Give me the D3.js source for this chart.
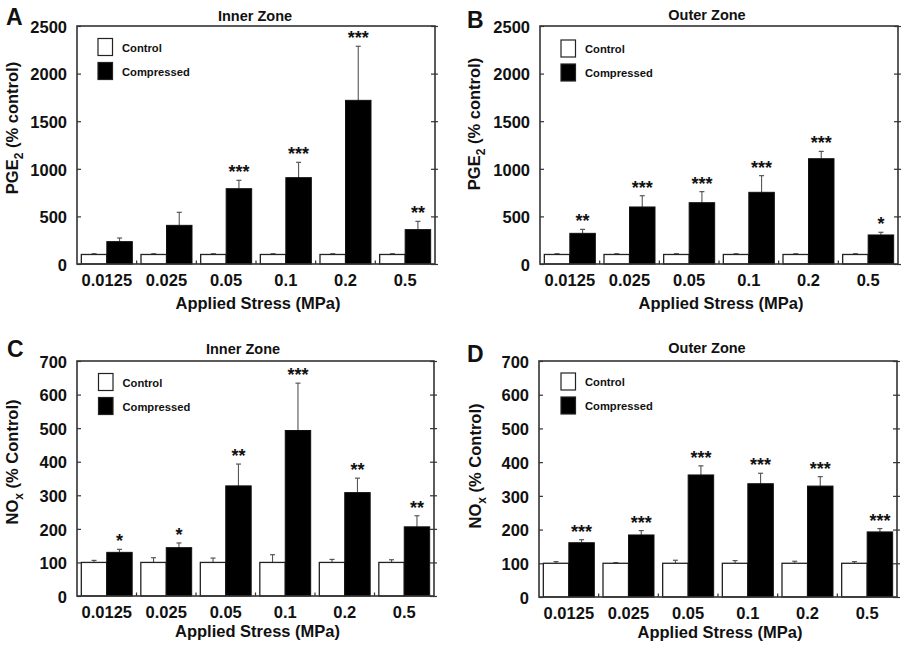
<!DOCTYPE html>
<html>
<head>
<meta charset="utf-8">
<script src="https://cdn.jsdelivr.net/npm/d3@7"></script>
<style>
  html, body { margin: 0; padding: 0; background: #fff; }
  svg text { font-family: "Liberation Sans", Arial, sans-serif; font-weight: bold; fill: #111; }
</style>
</head>
<body>
<svg id="chart" width="910" height="652"></svg>
<script>
// ---------- data ----------
const stressLabels = ["0.0125", "0.025", "0.05", "0.1", "0.2", "0.5"];
const seriesNames = ["Control", "Compressed"];
const controlValues = [100, 100, 100, 100, 100, 100];

const pgeYTicks = [0, 500, 1000, 1500, 2000, 2500];
const noYTicks = [0, 100, 200, 300, 400, 500, 600, 700];

// Panel A: PGE2 inner zone
const pgeInnerComp = [235, 406, 791, 907, 1719, 361];
const pgeInnerCompErr = [38, 137, 88, 161, 568, 87];
const pgeInnerCtrlErr = [8, 8, 8, 8, 8, 8];
const pgeInnerSig = ["", "", "***", "***", "***", "**"];

// Panel B: PGE2 outer zone
const pgeOuterComp = [322, 599, 644, 753, 1106, 305];
const pgeOuterCompErr = [42, 118, 116, 175, 77, 28];
const pgeOuterCtrlErr = [8, 8, 8, 8, 8, 8];
const pgeOuterSig = ["**", "***", "***", "***", "***", "*"];

// Panel C: NOx inner zone
const noInnerComp = [130, 144, 328, 493, 308, 206];
const noInnerCompErr = [9, 14, 65, 141, 43, 33];
const noInnerCtrlErr = [6, 14, 13, 23, 9, 8];
const noInnerSig = ["*", "*", "**", "***", "**", "**"];

// Panel D: NOx outer zone
const noOuterComp = [161, 184, 362, 336, 329, 193];
const noOuterCompErr = [9, 13, 27, 31, 28, 10];
const noOuterCtrlErr = [5, 2, 9, 8, 6, 5];
const noOuterSig = ["***", "***", "***", "***", "***", "***"];

// ---------- drawing ----------
const svg = d3.select("#chart");

function drawPanel(p) {
  const g = svg.append("g");
  const x = d3.scaleBand().domain(stressLabels).range([p.left, p.right]).padding(0);
  const xi = d3.scaleBand().domain(seriesNames).range([0, x.bandwidth()]).paddingInner(0).paddingOuter(0.17);
  const y = d3.scaleLinear().domain([0, p.yMax]).range([p.bottom, p.top]);

  const rows = stressLabels.map((s, i) => ({
    s, ctrl: controlValues[i], ctrlErr: p.ctrlErr[i],
    comp: p.comp[i], compErr: p.compErr[i], sig: p.sig[i]
  }));

  // error bars (drawn first so bars sit on top)
  const errs = [];
  rows.forEach(r => {
    errs.push({ cx: x(r.s) + xi("Control") + xi.bandwidth() / 2, v: r.ctrl, e: r.ctrlErr });
    errs.push({ cx: x(r.s) + xi("Compressed") + xi.bandwidth() / 2, v: r.comp, e: r.compErr });
  });
  g.selectAll(".ev").data(errs).join("line")
    .attr("x1", d => d.cx).attr("x2", d => d.cx)
    .attr("y1", d => y(d.v)).attr("y2", d => y(d.v + d.e))
    .attr("stroke", "#555").attr("stroke-width", 1.1);
  g.selectAll(".ec").data(errs).join("line")
    .attr("x1", d => d.cx - 2.5).attr("x2", d => d.cx + 2.5)
    .attr("y1", d => y(d.v + d.e)).attr("y2", d => y(d.v + d.e))
    .attr("stroke", "#555").attr("stroke-width", 1.2);

  // control bars
  g.selectAll(".cb").data(rows).join("rect")
    .attr("x", d => x(d.s) + xi("Control"))
    .attr("width", xi.bandwidth())
    .attr("y", d => y(d.ctrl))
    .attr("height", d => p.bottom - y(d.ctrl))
    .attr("fill", "#fff").attr("stroke", "#222").attr("stroke-width", 1.3);
  // compressed bars
  g.selectAll(".pb").data(rows).join("rect")
    .attr("x", d => x(d.s) + xi("Compressed"))
    .attr("width", xi.bandwidth())
    .attr("y", d => y(d.comp))
    .attr("height", d => p.bottom - y(d.comp))
    .attr("fill", "#000").attr("stroke", "#111").attr("stroke-width", 1);

  // significance stars
  g.selectAll(".sig").data(rows).join("text")
    .attr("x", d => x(d.s) + xi("Compressed") + xi.bandwidth() / 2)
    .attr("y", d => y(d.comp + d.compErr) - 2)
    .attr("text-anchor", "middle")
    .style("font-size", "18px")
    .text(d => d.sig);

  // frame
  g.append("rect")
    .attr("x", p.left).attr("y", p.top)
    .attr("width", p.right - p.left).attr("height", p.bottom - p.top)
    .attr("fill", "none").attr("stroke", "#333").attr("stroke-width", 1.6);

  // y axis ticks (left, inward) and labels
  const yAxis = d3.axisLeft(y).tickValues(p.yTicks).tickSize(-4).tickPadding(10).tickFormat(d3.format("d"));
  const ya = g.append("g").attr("transform", `translate(${p.left},0)`).call(yAxis);
  ya.select(".domain").remove();
  ya.selectAll(".tick line").attr("stroke", "#333").attr("stroke-width", 1.2);
  ya.selectAll(".tick text").attr("dy", "0.38em").style("font-size", "16.5px").attr("fill", "#111");
  // right ticks
  const yAxisR = d3.axisRight(y).tickValues(p.yTicks).tickSize(-4).tickFormat("");
  const yr = g.append("g").attr("transform", `translate(${p.right},0)`).call(yAxisR);
  yr.select(".domain").remove();
  yr.selectAll(".tick line").attr("stroke", "#333").attr("stroke-width", 1.2);
  yr.selectAll(".tick line").attr("x1", 3);

  // x axis labels
  const xAxis = d3.axisBottom(x).tickSize(0).tickPadding(10);
  const xa = g.append("g").attr("transform", `translate(0,${p.bottom})`).call(xAxis);
  xa.select(".domain").remove();
  xa.selectAll(".tick text").attr("y", 22).attr("dy", 0).style("font-size", "16.5px").attr("fill", "#111");
  // group boundary ticks
  g.selectAll(".gt").data(stressLabels.slice(1)).join("line")
    .attr("x1", d => x(d)).attr("x2", d => x(d))
    .attr("y1", p.bottom).attr("y2", p.bottom - 3.5)
    .attr("stroke", "#333").attr("stroke-width", 1.2);

  // x title
  g.append("text")
    .attr("x", (p.left + p.right) / 2 + 2).attr("y", p.xTitleY)
    .attr("text-anchor", "middle").style("font-size", "16.5px")
    .text("Applied Stress (MPa)");

  // y title with subscript
  const yt = g.append("text")
    .attr("transform", `translate(${p.yTitleX},${p.yTitleY}) rotate(-90)`)
    .attr("text-anchor", "middle").style("font-size", "16.5px");
  yt.append("tspan").text(p.yMain);
  yt.append("tspan").attr("dy", 5).style("font-size", "12px").text(p.ySub);
  yt.append("tspan").attr("dy", -5).text(" " + p.yRest);

  // panel title
  g.append("text")
    .attr("x", p.titleX).attr("y", p.titleY)
    .attr("text-anchor", "middle").style("font-size", "14.5px")
    .text(p.title);

  // panel letter
  g.append("text")
    .attr("x", p.letterX).attr("y", p.letterY)
    .style("font-size", "23px")
    .text(p.letter);

  // legend
  const lg = g.append("g");
  const legendItems = [
    { name: "Control", fill: "#fff", y: p.legY },
    { name: "Compressed", fill: "#000", y: p.legY + 24 }
  ];
  lg.selectAll("rect").data(legendItems).join("rect")
    .attr("x", p.legX).attr("y", d => d.y)
    .attr("width", 14.5).attr("height", 17)
    .attr("fill", d => d.fill).attr("stroke", "#222").attr("stroke-width", 1.2);
  lg.selectAll("text").data(legendItems).join("text")
    .attr("x", p.legX + 24).attr("y", d => d.y + 13)
    .style("font-size", "11.2px")
    .text(d => d.name);
}

drawPanel({
  letter: "A", title: "Inner Zone",
  left: 77, right: 435, top: 26, bottom: 264, yMax: 2500, yTicks: pgeYTicks,
  comp: pgeInnerComp, compErr: pgeInnerCompErr, ctrlErr: pgeInnerCtrlErr, sig: pgeInnerSig,
  yMain: "PGE", ySub: "2", yRest: "(% control)",
  yTitleX: 18, yTitleY: 128, xTitleY: 309,
  titleX: 255, titleY: 21, letterX: 6, letterY: 25,
  legX: 98, legY: 38.5
});
drawPanel({
  letter: "B", title: "Outer Zone",
  left: 540, right: 898, top: 26, bottom: 264, yMax: 2500, yTicks: pgeYTicks,
  comp: pgeOuterComp, compErr: pgeOuterCompErr, ctrlErr: pgeOuterCtrlErr, sig: pgeOuterSig,
  yMain: "PGE", ySub: "2", yRest: "(% control)",
  yTitleX: 480, yTitleY: 124, xTitleY: 309,
  titleX: 707, titleY: 20, letterX: 467, letterY: 28,
  legX: 561, legY: 40
});
drawPanel({
  letter: "C", title: "Inner Zone",
  left: 77, right: 434, top: 361, bottom: 596, yMax: 700, yTicks: noYTicks,
  comp: noInnerComp, compErr: noInnerCompErr, ctrlErr: noInnerCtrlErr, sig: noInnerSig,
  yMain: "NO", ySub: "x", yRest: "(% Control)",
  yTitleX: 18, yTitleY: 462, xTitleY: 637,
  titleX: 243, titleY: 354, letterX: 7, letterY: 357,
  legX: 98.5, legY: 373.5
});
drawPanel({
  letter: "D", title: "Outer Zone",
  left: 539, right: 897, top: 361, bottom: 597, yMax: 700, yTicks: noYTicks,
  comp: noOuterComp, compErr: noOuterCompErr, ctrlErr: noOuterCtrlErr, sig: noOuterSig,
  yMain: "NO", ySub: "x", yRest: "(% Control)",
  yTitleX: 481, yTitleY: 466, xTitleY: 638,
  titleX: 707, titleY: 353, letterX: 467, letterY: 362,
  legX: 561, legY: 373
});
</script>
</body>
</html>
